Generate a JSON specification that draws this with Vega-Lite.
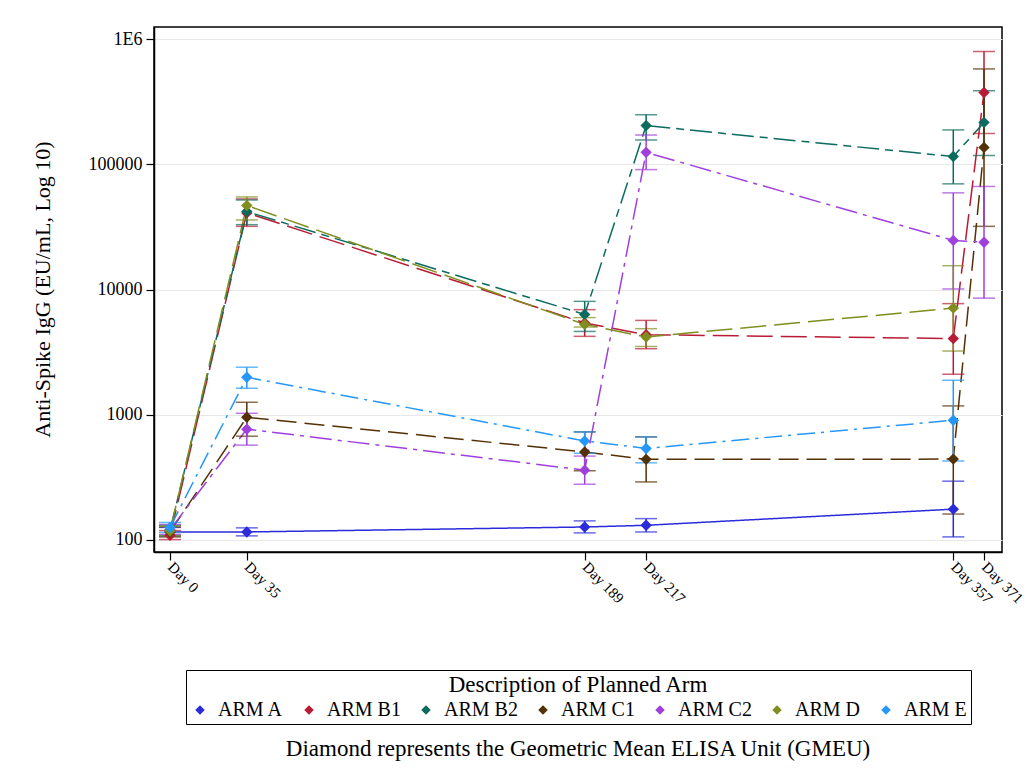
{
  "$schema": "https://vega.github.io/schema/vega-lite/v6.json",
  "width": 848,
  "height": 525,
  "autosize": "none",
  "padding": {"left": 154, "top": 27, "right": 24, "bottom": 230},
  "background": "white",
  "title": {
    "text": "Diamond represents the Geometric Mean ELISA Unit (GMEU)",
    "orient": "bottom",
    "anchor": "middle",
    "font": "Liberation Serif",
    "fontSize": 23,
    "fontWeight": "normal",
    "color": "black",
    "offset": 13
  },
  "data": {
    "values": [
      {"Arm": "ARM A", "Day": 0, "GMEU": 115, "Lower": 106, "Upper": 125},
      {"Arm": "ARM A", "Day": 35, "GMEU": 115, "Lower": 107, "Upper": 124},
      {"Arm": "ARM A", "Day": 189, "GMEU": 126, "Lower": 113, "Upper": 141},
      {"Arm": "ARM A", "Day": 217, "GMEU": 130, "Lower": 115, "Upper": 147},
      {"Arm": "ARM A", "Day": 357, "GMEU": 175, "Lower": 105, "Upper": 293},
      {"Arm": "ARM B1", "Day": 0, "GMEU": 108, "Lower": 100, "Upper": 118},
      {"Arm": "ARM B1", "Day": 35, "GMEU": 41000, "Lower": 32000, "Upper": 53000},
      {"Arm": "ARM B1", "Day": 189, "GMEU": 5400, "Lower": 4220, "Upper": 6900},
      {"Arm": "ARM B1", "Day": 217, "GMEU": 4350, "Lower": 3360, "Upper": 5660},
      {"Arm": "ARM B1", "Day": 357, "GMEU": 4050, "Lower": 2100, "Upper": 7710},
      {"Arm": "ARM B1", "Day": 371, "GMEU": 377000, "Lower": 177000, "Upper": 801000},
      {"Arm": "ARM B2", "Day": 0, "GMEU": 118, "Lower": 108, "Upper": 130},
      {"Arm": "ARM B2", "Day": 35, "GMEU": 42000, "Lower": 33000, "Upper": 52000},
      {"Arm": "ARM B2", "Day": 189, "GMEU": 6320, "Lower": 4620, "Upper": 8040},
      {"Arm": "ARM B2", "Day": 217, "GMEU": 204700, "Lower": 157000, "Upper": 250000},
      {"Arm": "ARM B2", "Day": 357, "GMEU": 115700, "Lower": 70000, "Upper": 189000},
      {"Arm": "ARM B2", "Day": 371, "GMEU": 217000, "Lower": 118000, "Upper": 389000},
      {"Arm": "ARM C1", "Day": 0, "GMEU": 115, "Lower": 105, "Upper": 126},
      {"Arm": "ARM C1", "Day": 35, "GMEU": 951, "Lower": 671, "Upper": 1253},
      {"Arm": "ARM C1", "Day": 189, "GMEU": 502, "Lower": 355, "Upper": 726},
      {"Arm": "ARM C1", "Day": 217, "GMEU": 438, "Lower": 289, "Upper": 662},
      {"Arm": "ARM C1", "Day": 357, "GMEU": 440, "Lower": 160, "Upper": 1172},
      {"Arm": "ARM C1", "Day": 371, "GMEU": 137000, "Lower": 32000, "Upper": 581000},
      {"Arm": "ARM C2", "Day": 0, "GMEU": 120, "Lower": 110, "Upper": 132},
      {"Arm": "ARM C2", "Day": 35, "GMEU": 764, "Lower": 569, "Upper": 1023},
      {"Arm": "ARM C2", "Day": 189, "GMEU": 359, "Lower": 277, "Upper": 465},
      {"Arm": "ARM C2", "Day": 217, "GMEU": 125000, "Lower": 91000, "Upper": 172000},
      {"Arm": "ARM C2", "Day": 357, "GMEU": 24700, "Lower": 10100, "Upper": 59300},
      {"Arm": "ARM C2", "Day": 371, "GMEU": 23900, "Lower": 8530, "Upper": 66700},
      {"Arm": "ARM D", "Day": 0, "GMEU": 117, "Lower": 107, "Upper": 128},
      {"Arm": "ARM D", "Day": 35, "GMEU": 47000, "Lower": 36000, "Upper": 55000},
      {"Arm": "ARM D", "Day": 189, "GMEU": 5260, "Lower": 5010, "Upper": 5960},
      {"Arm": "ARM D", "Day": 217, "GMEU": 4170, "Lower": 3500, "Upper": 4860},
      {"Arm": "ARM D", "Day": 357, "GMEU": 7100, "Lower": 3220, "Upper": 15500},
      {"Arm": "ARM E", "Day": 0, "GMEU": 125, "Lower": 114, "Upper": 137},
      {"Arm": "ARM E", "Day": 35, "GMEU": 1986, "Lower": 1622, "Upper": 2390},
      {"Arm": "ARM E", "Day": 189, "GMEU": 615, "Lower": 490, "Upper": 726},
      {"Arm": "ARM E", "Day": 217, "GMEU": 535, "Lower": 411, "Upper": 662},
      {"Arm": "ARM E", "Day": 357, "GMEU": 900, "Lower": 425, "Upper": 1880}
    ]
  },
  "encoding": {
    "x": {
      "field": "Day",
      "type": "quantitative",
      "scale": {"domain": [-7.3, 379.2], "nice": false, "zero": false},
      "axis": {
        "values": [0, 35, 189, 217, 357, 371],
        "labelExpr": "'Day ' + datum.value",
        "labelAngle": 45,
        "labelAlign": "left",
        "labelBaseline": "middle",
        "labelPadding": 4,
        "labelFont": "Liberation Serif",
        "labelFontSize": 15,
        "labelColor": "black",
        "labelOverlap": false,
        "grid": false,
        "title": null,
        "domainColor": "black",
        "domainWidth": 1.5,
        "tickColor": "black",
        "tickSize": 8,
        "tickWidth": 1.2
      }
    },
    "color": {
      "field": "Arm",
      "type": "nominal",
      "scale": {
        "domain": ["ARM A", "ARM B1", "ARM B2", "ARM C1", "ARM C2", "ARM D", "ARM E"],
        "range": ["#2b2bdb", "#b81c34", "#0b6b5e", "#543005", "#a040dc", "#7f8e1f", "#2597fa"]
      },
      "legend": {
        "title": "Description of Planned Arm",
        "orient": "none",
        "legendX": 32,
        "legendY": 643,
        "direction": "horizontal",
        "columns": 7,
        "titleAnchor": "middle",
        "titleFont": "Liberation Serif",
        "titleFontSize": 23,
        "titleFontWeight": "normal",
        "titleColor": "black",
        "titleLimit": 0,
        "titlePadding": 3,
        "labelFont": "Liberation Serif",
        "labelFontSize": 20,
        "labelColor": "black",
        "labelLimit": 0,
        "labelOffset": 8,
        "symbolType": "diamond",
        "symbolSize": 90,
        "symbolStrokeWidth": 0,
        "symbolOpacity": 1,
        "columnPadding": 15,
        "strokeColor": "black",
        "padding": 4
      }
    }
  },
  "layer": [
    {
      "mark": {"type": "line", "strokeWidth": 1.5},
      "encoding": {
        "y": {
          "field": "GMEU",
          "type": "quantitative",
          "title": "Anti-Spike IgG (EU/mL, Log 10)",
          "scale": {"type": "log", "domain": [79.5, 1258000], "nice": false},
          "axis": {
            "values": [100, 1000, 10000, 100000, 1000000],
            "labelExpr": "datum.value >= 1000000 ? '1E6' : format(datum.value, 'd')",
            "labelFont": "Liberation Serif",
            "labelFontSize": 18,
            "labelColor": "black",
            "labelPadding": 4,
            "titleFont": "Liberation Serif",
            "titleFontSize": 22,
            "titleFontWeight": "normal",
            "titleColor": "black",
            "titleX": -112,
            "titleY": 262,
            "titleAngle": -90,
            "titleBaseline": "middle",
            "grid": true,
            "gridColor": "#e8e8e8",
            "gridWidth": 1.2,
            "domainColor": "black",
            "domainWidth": 1.5,
            "tickColor": "black",
            "tickSize": 8,
            "tickWidth": 1.2
          }
        },
        "strokeDash": {
          "field": "Arm",
          "type": "nominal",
          "scale": {
            "domain": ["ARM A", "ARM B1", "ARM B2", "ARM C1", "ARM C2", "ARM D", "ARM E"],
            "range": [[1, 0], [26, 8], [22, 6, 8, 6], [20, 8], [22, 6, 4, 6], [26, 8], [18, 6, 3, 6]]
          },
          "legend": null
        }
      }
    },
    {
      "mark": {"type": "errorbar", "ticks": {"size": 22}, "thickness": 1.5},
      "encoding": {
        "y": {"field": "Lower", "type": "quantitative", "title": "Anti-Spike IgG (EU/mL, Log 10)"},
        "y2": {"field": "Upper"}
      }
    },
    {
      "mark": {"type": "point", "shape": "diamond", "filled": true, "size": 130, "opacity": 1},
      "encoding": {
        "y": {"field": "GMEU", "type": "quantitative", "title": "Anti-Spike IgG (EU/mL, Log 10)"}
      }
    }
  ],
  "config": {
    "view": {"stroke": "black", "strokeWidth": 1.5},
    "font": "Liberation Serif"
  }
}
